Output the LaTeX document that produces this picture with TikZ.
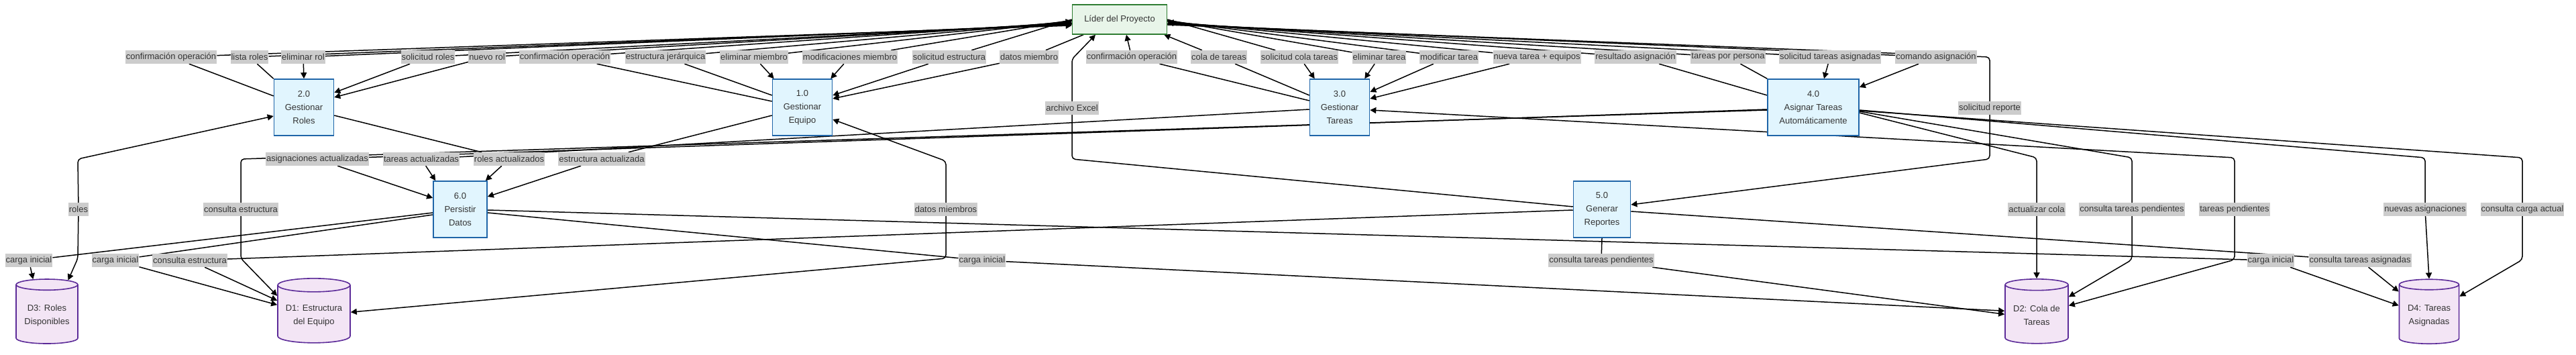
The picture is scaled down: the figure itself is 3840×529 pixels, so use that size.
\documentclass[tikz,border=0pt]{standalone}
\usepackage{fontspec}
\setmainfont{Liberation Sans}
\usetikzlibrary{arrows.meta,shapes.geometric}
\definecolor{txt}{HTML}{333333}
\definecolor{procfill}{HTML}{E1F5FE}
\definecolor{procline}{HTML}{1F65A8}
\definecolor{extfill}{HTML}{E8F5E9}
\definecolor{extline}{HTML}{2E7D32}
\definecolor{storefill}{HTML}{F3E5F5}
\definecolor{storeline}{HTML}{5B2A98}
\definecolor{labfill}{HTML}{CCCCCC}
\pgfdeclarelayer{bg}
\pgfsetlayers{bg,main}
\tikzset{
  proc/.style={draw=procline,fill=procfill,line width=1.6pt,text=txt,align=center,
    font=\fontsize{13}{20}\selectfont,minimum width=89pt,minimum height=84pt,inner sep=2pt},
  ext/.style={draw=extline,fill=extfill,line width=1.6pt,text=txt,
    font=\fontsize{13}{16}\selectfont,minimum width=141pt,minimum height=44pt},
  store/.style={cylinder,shape border rotate=90,aspect=0.22,draw=storeline,fill=storefill,
    line width=1.6pt,text=txt,align=center,font=\fontsize{13}{20}\selectfont,minimum height=96pt},
  lab/.style={fill=labfill,text=txt,font=\fontsize{13}{15}\selectfont,inner xsep=1pt,
    inner ysep=0pt,minimum height=20pt},
  flow/.style={line width=1.5pt,rounded corners=5pt},
  >={Triangle[length=9pt,width=9pt]}
}
\begin{document}
\begin{tikzpicture}[x=1pt,y=-1pt]
\useasboundingbox (0,0) rectangle (3840,529);
% procesos, entidad y almacenes
\node[ext] (L) at (1669,29) {Líder del Proyecto};
\node[proc] (P2) at (453,160) {2.0\\Gestionar\\Roles};
\node[proc] (P1) at (1196,160) {1.0\\Gestionar\\Equipo};
\node[proc] (P3) at (1997,160) {3.0\\Gestionar\\Tareas};
\node[proc,minimum width=136pt] (P4) at (2703,160) {4.0\\Asignar Tareas\\Automáticamente};
\node[proc,minimum width=80pt] (P6) at (686,312) {6.0\\Persistir\\Datos};
\node[proc,minimum width=85pt] (P5) at (2388,312) {5.0\\Generar\\Reportes};
\node[store,minimum width=92pt] (D3) at (70,470) {D3: Roles\\Disponibles};
\node[store,minimum width=108pt] (D1) at (468,470) {D1: Estructura\\del Equipo};
\node[store,minimum width=94pt] (D2) at (3036,470) {D2: Cola de\\Tareas};
\node[store,minimum width=89pt] (D4) at (3621,470) {D4: Tareas\\Asignadas};
% etiquetas de flujo, fila superior
\node[lab] (t1) at (255,85) {confirmación operación};
\node[lab] (t2) at (372,85) {lista roles};
\node[lab] (t3) at (452,85) {eliminar rol};
\node[lab] (t4) at (638,85) {solicitud roles};
\node[lab] (t5) at (726,85) {nuevo rol};
\node[lab] (t6) at (842,85) {confirmación operación};
\node[lab] (t7) at (992,85) {estructura jerárquica};
\node[lab] (t8) at (1124,85) {eliminar miembro};
\node[lab] (t9) at (1267,85) {modificaciones miembro};
\node[lab] (t10) at (1415,85) {solicitud estructura};
\node[lab] (t11) at (1534,85) {datos miembro};
\node[lab] (t12) at (1687,85) {confirmación operación};
\node[lab] (t13) at (1817,85) {cola de tareas};
\node[lab] (t14) at (1937,85) {solicitud cola tareas};
\node[lab] (t15) at (2056,85) {eliminar tarea};
\node[lab] (t16) at (2160,85) {modificar tarea};
\node[lab] (t17) at (2291,85) {nueva tarea + equipos};
\node[lab] (t18) at (2438,85) {resultado asignación};
\node[lab] (t19) at (2576,85) {tareas por persona};
\node[lab] (t20) at (2728,85) {solicitud tareas asignadas};
\node[lab] (t21) at (2886,85) {comando asignación};
\node[lab] (tX) at (1598,161) {archivo Excel};
\node[lab] (tR) at (2966,161) {solicitud reporte};
% etiquetas de flujo, zona inferior
\node[lab] (b1) at (473,237) {asignaciones actualizadas};
\node[lab] (b2) at (628,237) {tareas actualizadas};
\node[lab] (b3) at (759,237) {roles actualizados};
\node[lab] (b4) at (897,237) {estructura actualizada};
\node[lab] (b5) at (359,312) {consulta estructura};
\node[lab] (b6) at (117,312) {roles};
\node[lab] (b7) at (1410,312) {datos miembros};
\node[lab] (b8) at (3036,312) {actualizar cola};
\node[lab] (b9) at (3178,312) {consulta tareas pendientes};
\node[lab] (b10) at (3331,312) {tareas pendientes};
\node[lab] (b11) at (3615,312) {nuevas asignaciones};
\node[lab] (b12) at (3760,312) {consulta carga actual};
\node[lab] (c1) at (43,388) {carga inicial};
\node[lab] (c2) at (172,388) {carga inicial};
\node[lab] (c3) at (283,388) {consulta estructura};
\node[lab] (c4) at (1464,388) {carga inicial};
\node[lab] (c5) at (2387,388) {consulta tareas pendientes};
\node[lab] (c6) at (3385,388) {carga inicial};
\node[lab] (c7) at (3518,388) {consulta tareas asignadas};
% esquinas de los flujos
\coordinate (kRep1) at (2966,85);
\coordinate (kRep2) at (2966,237);
\coordinate (kX1) at (1598,237);
\coordinate (kX2) at (1598,88);
\coordinate (kEst1) at (359,237);
\coordinate (kEst2) at (359,385);
\coordinate (kRol1) at (116,237);
\coordinate (kRol2) at (116,385);
\coordinate (kDat1) at (1410,240);
\coordinate (kDat2) at (1410,385);
\coordinate (kCola) at (3036,235);
\coordinate (kPen1) at (3178,235);
\coordinate (kPen2) at (3178,387);
\coordinate (kTar1) at (3331,235);
\coordinate (kTar2) at (3331,387);
\coordinate (kNue) at (3615,235);
\coordinate (kCar1) at (3760,235);
\coordinate (kCar2) at (3760,387);
\begin{pgfonlayer}{bg}
\fill[white] (0,0) rectangle (3840,529);
% flujos con el lider
\draw[flow,->] ([yshift=17pt]P2.west) -- (t1) -- ([yshift=-9pt]L.west);
\draw[flow,->] (P2.north west) -- (t2) -- ([yshift=-8pt]L.west);
\draw[flow,->] ([yshift=-7pt]L.west) -- (t3) -- (P2.north);
\draw[flow,->] ([yshift=-6pt]L.west) -- (t4) -- ([yshift=22pt]P2.east);
\draw[flow,->] ([yshift=-5pt]L.west) -- (t5) -- ([yshift=15pt]P2.east);
\draw[flow,->] ([yshift=9pt]P1.west) -- (t6) -- ([yshift=-4pt]L.west);
\draw[flow,->] ([yshift=18pt]P1.west) -- (t7) -- ([yshift=-3pt]L.west);
\draw[flow,->] ([yshift=-2pt]L.west) -- (t8) -- ([xshift=3pt]P1.north west);
\draw[flow,->] ([yshift=-1pt]L.west) -- (t9) -- ([xshift=-3pt]P1.north east);
\draw[flow,->] (L.west) -- (t10) -- ([yshift=18pt]P1.east);
\draw[flow,->] ([xshift=-54pt]L.south) -- (t11) -- ([yshift=13pt]P1.east);
\draw[flow,->] ([yshift=10pt]P3.west) -- (t12) -- ([xshift=10pt]L.south);
\draw[flow,->] ([yshift=18pt]P3.west) -- (t13) -- ([xshift=-5pt]L.south east);
\draw[flow,->] (L.east) -- (t14) -- ([xshift=8pt]P3.north west);
\draw[flow,->] ([yshift=-1pt]L.east) -- (t15) -- ([xshift=-8pt]P3.north east);
\draw[flow,->] ([yshift=-2pt]L.east) -- (t16) -- ([yshift=23pt]P3.east);
\draw[flow,->] ([yshift=-3pt]L.east) -- (t17) -- ([yshift=13pt]P3.east);
\draw[flow,->] ([yshift=18pt]P4.west) -- (t18) -- ([yshift=-4pt]L.east);
\draw[flow,->] (P4.north west) -- (t19) -- ([yshift=-5pt]L.east);
\draw[flow,->] ([yshift=-6pt]L.east) -- (t20) -- ([xshift=16pt]P4.north);
\draw[flow,->] ([yshift=-7pt]L.east) -- (t21) -- ([yshift=30pt]P4.east);
\draw[flow,->] ([yshift=-8pt]L.east) -- (kRep1) -- (tR) -- (kRep2) -- ([yshift=7pt]P5.east);
\draw[flow,->] ([yshift=4pt]P5.west) -- (kX1) -- (tX) -- (kX2) -- ([xshift=-36pt]L.south);
% flujos hacia persistir datos
\draw[flow,->] ([yshift=-3pt]P4.west) -- (b1) -- ([yshift=17pt]P6.west);
\draw[flow,->] ([yshift=-3pt]P3.west) -- (b2) -- ([xshift=4pt]P6.north west);
\draw[flow,->] ([yshift=-12pt]P2.east) -- (b3) -- ([xshift=-3pt]P6.north east);
\draw[flow,->] ([yshift=-12pt]P1.west) -- (b4) -- ([yshift=19pt]P6.east);
% flujos con los almacenes
\draw[flow,->] ([yshift=-4pt]P4.west) -- (kEst1) -- (b5) -- (kEst2) -- (D1.152);
\draw[flow,<-] ([yshift=-13pt]P2.west) -- (kRol1) -- (b6);
\draw[flow,->] (b6) -- (kRol2) -- (D3.59);
\draw[flow,<-] ([yshift=-18pt]P1.east) -- (kDat1) -- (b7);
\draw[flow,->] (b7) -- (kDat2) -- (D1.5);
\draw[flow,->] ([yshift=-5pt]P6.west) -- (c1) -- (D3.111);
\draw[flow,->] ([yshift=-8pt]P6.west) -- (c2) -- (D1.164);
\draw[flow,->] ([yshift=-1pt]P5.west) -- (c3) -- (D1.158);
\draw[flow,->] ([yshift=-5pt]P6.east) -- (c4) -- (D2.172);
\draw[flow,->] ([yshift=-1pt]P6.east) -- (c6) -- (D4.162);
\draw[flow,->] (P5.south) -- (c5) -- (D2.178);
\draw[flow,->] ([yshift=-3pt]P5.east) -- (c7) -- (D4.142);
\draw[flow,->] ([yshift=-8pt]P4.east) -- (kCola) -- (b8) -- (D2.90);
\draw[flow,->] ([yshift=-6pt]P4.east) -- (kPen1) -- (b9) -- (kPen2) -- (D2.30);
\draw[flow,<-] ([yshift=-4pt]P3.east) -- (kTar1) -- (b10);
\draw[flow,->] (b10) -- (kTar2) -- (D2.17);
\draw[flow,->] ([yshift=-4pt]P4.east) -- (kNue) -- (b11) -- (D4.90);
\draw[flow,->] ([yshift=-5pt]P4.east) -- (kCar1) -- (b12) -- (kCar2) -- (D4.32);
\end{pgfonlayer}
\end{tikzpicture}
\end{document}
